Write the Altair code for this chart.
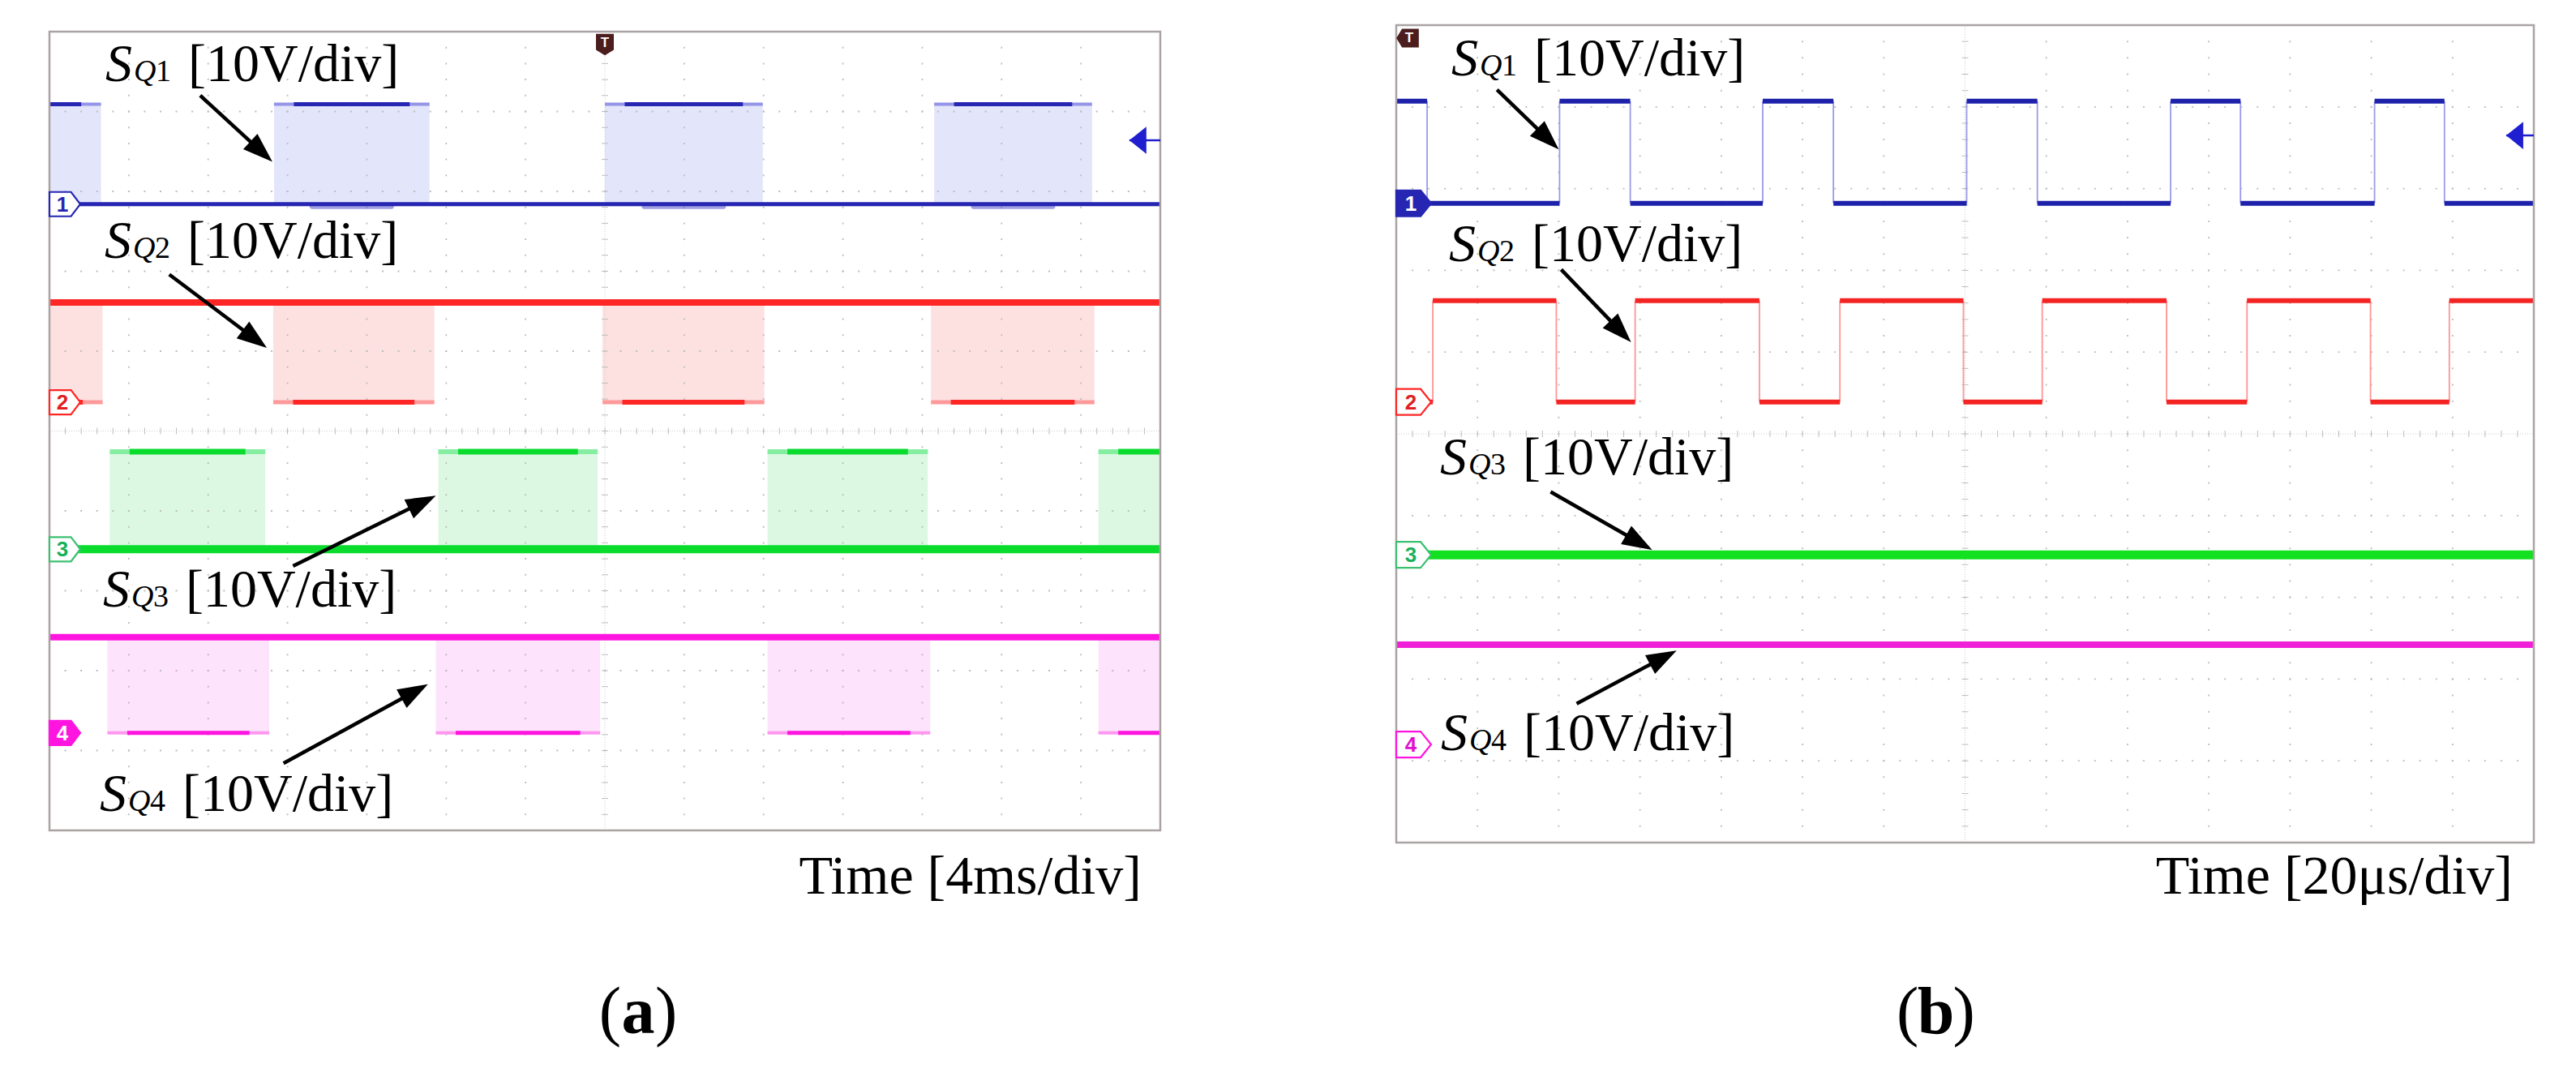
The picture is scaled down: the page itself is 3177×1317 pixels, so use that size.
import math
import altair as alt
import pandas as pd

SERIF = "Liberation Serif"
SANS = "Liberation Sans"

# ---------------- colours (ch1..ch4) ----------------
CH_DARK = ["#2626b2", "#ff2626", "#0adc2e", "#ff14e0"]
CH_LIGHT = ["#9494e8", "#ff9a9a", "#86eea0", "#ff96f0"]
CH_FILL = ["#e3e5fb", "#fde1e1", "#dcf8e3", "#fde3fb"]
CH_NUMCOL = ["#2626b2", "#e02020", "#18b058", "#e010d0"]
CH_LABEL = ["1", "2", "3", "4"]
GRID = "#bdbdbd"

# ---------------- panel (a): 4 ms/div (x: 0..14 div, y: 0..10 div) ----------------
A_LOW = [7.84, 5.36, 3.52, 1.22]
A_HIGH = [9.09, 6.61, 4.74, 2.42]
A_CONT_HIGH = [False, True, False, True]
A_CH1_PULSES = [[0.00, 0.65], [2.83, 4.79], [7.00, 8.99], [11.15, 13.14]]
A_CH2_PULSES = [[0.00, 0.67], [2.82, 4.85], [6.97, 9.01], [11.11, 13.17]]
A_CH3_PULSES = [[0.76, 2.72], [4.90, 6.91], [9.05, 11.07], [13.22, 14.00]]
A_CH4_PULSES = [[0.73, 2.77], [4.87, 6.94], [9.05, 11.10], [13.22, 14.00]]
A_MARKER_Y = [7.84, 5.36, 3.52, 1.22]
A_MARKER_FILLED = [False, False, False, True]
A_LABEL_XY = [[0.705, 9.381], [0.695, 7.168], [0.674, 2.802], [0.634, 0.244]]
A_ARROWS = [[1.90, 9.20, 2.81, 8.37], [1.51, 6.96, 2.74, 6.04],
            [3.07, 3.31, 4.87, 4.19], [2.95, 0.84, 4.77, 1.83]]
A_TRIG_LEVEL = [13.61, 8.64]
A_TIME = "Time [4ms/div]"
A_TIME_XY = [13.765, -0.79]
A_TAG = "a"
A_TAG_XY = [7.42, -2.54]

# ---------------- panel (b): 20 us/div ----------------
B_LOW = [7.82, 5.39, 3.52, 1.20]
B_HIGH = [9.07, 6.63, 3.52, 2.42]
B_CH1_EDGES = [0.38, 2.01, 2.88, 4.51, 5.38, 7.02, 7.89, 9.53, 10.39, 12.04, 12.90]
B_CH2_EDGES = [0.45, 1.97, 2.94, 4.47, 5.46, 6.98, 7.95, 9.48, 10.47, 11.99, 12.96]
B_CH1_START_HIGH = True
B_CH2_START_HIGH = False
B_CH3_LEVEL = 3.52
B_CH4_LEVEL = 2.42
B_MARKER_Y = [7.82, 5.39, 3.52, 1.20]
B_MARKER_FILLED = [True, False, False, False]
B_LABEL_XY = [[0.679, 9.385], [0.649, 7.113], [0.539, 4.504], [0.549, 1.131]]
B_ARROWS = [[1.24, 9.21, 2.00, 8.48], [2.03, 7.01, 2.89, 6.12],
            [1.90, 4.29, 3.15, 3.58], [2.22, 1.70, 3.45, 2.35]]
B_TRIG_LEVEL = [13.66, 8.65]
B_TIME = "Time [20\u03bcs/div]"
B_TIME_XY = [13.74, -0.625]
B_TAG = "b"
B_TAG_XY = [6.64, -2.33]

HEAD = "M0,0 L-0.7,2 L0.7,2 Z"
TRIG_DOWN = "M-1,-1.2 L1,-1.2 L1,0.6 L0,1.2 L-1,0.6 Z"
TRIG_LEFT = "M-1.2,0 L-0.6,-1 L1.2,-1 L1.2,1 L-0.6,1 Z"
LEVEL_HEAD = "M0,0 L1,-0.8 L1,0.8 Z"


def XY(xs, ys):
    return dict(x=alt.X("x:Q", scale=xs, axis=None), y=alt.Y("y:Q", scale=ys, axis=None))


def C(col):
    return alt.Color(col + ":N", scale=None, legend=None)


def W(col):
    return alt.Size(col + ":Q", scale=None, legend=None)


def grid_layers(xs, ys, pxx, pxy):
    v = pd.DataFrame([{"x": i, "y": 0, "y2": 10} for i in range(1, 14) if i != 7])
    h = pd.DataFrame([{"x": 0, "x2": 14, "y": j} for j in range(1, 10) if j != 5])
    out = [
        alt.Chart(v).mark_rule(color=GRID, strokeWidth=1.8, strokeDash=[2, pxy / 5 - 2], strokeDashOffset=1)
        .encode(**XY(xs, ys), y2="y2:Q"),
        alt.Chart(h).mark_rule(color=GRID, strokeWidth=1.8, strokeDash=[2, pxx / 5 - 2], strokeDashOffset=1)
        .encode(**XY(xs, ys), x2="x2:Q"),
        alt.Chart(pd.DataFrame([{"x": 7, "y": 0, "y2": 10}]))
        .mark_rule(color="#cbcbcb", strokeWidth=1, strokeDash=[1, 2]).encode(**XY(xs, ys), y2="y2:Q"),
        alt.Chart(pd.DataFrame([{"x": 0, "x2": 14, "y": 5}]))
        .mark_rule(color="#cbcbcb", strokeWidth=1, strokeDash=[1, 2]).encode(**XY(xs, ys), x2="x2:Q"),
        alt.Chart(pd.DataFrame([{"x": 7, "x2": 7, "y": k / 5} for k in range(1, 50)]))
        .mark_rule(color=GRID, strokeWidth=1, xOffset=-4, x2Offset=4).encode(**XY(xs, ys), x2="x2:Q"),
        alt.Chart(pd.DataFrame([{"x": k / 5, "y": 5, "y2": 5} for k in range(1, 70)]))
        .mark_rule(color=GRID, strokeWidth=1, yOffset=-4, y2Offset=4).encode(**XY(xs, ys), y2="y2:Q"),
    ]
    return out


def frame_layer(xs, ys):
    return alt.Chart(pd.DataFrame([{"x": 0, "x2": 14, "y": 0, "y2": 10}])).mark_rect(
        fillOpacity=0, stroke="#aba3a3", strokeWidth=2.5
    ).encode(**XY(xs, ys), x2="x2:Q", y2="y2:Q")


def marker_layers(xs, ys, ys_list, filled, mw, mh, numdx):
    s = mw / 2.0
    hh = (mh / 2.0) / s
    path = f"M0,-{hh:.3f} L1.4,-{hh:.3f} L2,0 L1.4,{hh:.3f} L0,{hh:.3f} Z"
    rows = []
    for i in range(4):
        rows.append({"x": 0, "y": ys_list[i], "n": CH_LABEL[i],
                     "f": CH_DARK[i] if filled[i] else "#ffffff",
                     "s": CH_DARK[i] if i != 2 else "#3cc070",
                     "t": "#ffffff" if filled[i] else CH_NUMCOL[i]})
    df = pd.DataFrame(rows)
    pts = alt.Chart(df).mark_point(shape=path, size=(2 * s) ** 2, filled=True, strokeWidth=2.2, opacity=1).encode(
        **XY(xs, ys), fill=alt.Fill("f:N", scale=None, legend=None),
        stroke=alt.Stroke("s:N", scale=None, legend=None))
    txt = alt.Chart(df).mark_text(font=SANS, fontWeight="bold", fontSize=26, dx=numdx, dy=1,
                                  align="center", baseline="middle").encode(**XY(xs, ys), text="n:N", color=C("t"))
    return [pts, txt]


def arrow_layers(xs, ys, pxx, pxy, arr):
    shafts, heads = [], []
    for x1, y1, x2, y2 in arr:
        dxs = (x2 - x1) * pxx
        dys = -(y2 - y1) * pxy
        L = math.hypot(dxs, dys)
        ang = math.degrees(math.atan2(dxs, -dys)) % 360
        back = 28.0 / L
        shafts.append({"x": x1, "y": y1, "x2": x2 - (x2 - x1) * back, "y2": y2 - (y2 - y1) * back})
        heads.append({"x": x2, "y": y2, "a": ang})
    return [
        alt.Chart(pd.DataFrame(shafts)).mark_rule(color="black", strokeWidth=4.5)
        .encode(**XY(xs, ys), x2="x2:Q", y2="y2:Q"),
        alt.Chart(pd.DataFrame(heads)).mark_point(shape=HEAD, size=1369, filled=True, color="black", opacity=1)
        .encode(**XY(xs, ys), angle=alt.Angle("a:Q", scale=None)),
    ]


def label_layers(xs, ys, pos):
    df = pd.DataFrame([{"x": p[0], "y": p[1], "s": "S", "q": "Q", "n": str(i + 1), "r": "[10V/div]"}
                       for i, p in enumerate(pos)])
    base = dict(font=SERIF, align="left", baseline="alphabetic", color="black")
    return [
        alt.Chart(df).mark_text(fontSize=66, fontStyle="italic", **base).encode(**XY(xs, ys), text="s:N"),
        alt.Chart(df).mark_text(fontSize=38, fontStyle="italic", dx=35, **base).encode(**XY(xs, ys), text="q:N"),
        alt.Chart(df).mark_text(fontSize=38, dx=62, **base).encode(**XY(xs, ys), text="n:N"),
        alt.Chart(df).mark_text(fontSize=66, dx=102, **base).encode(**XY(xs, ys), text="r:N"),
    ]


def bottom_layers(xs, ys, time_text, time_xy, tag, tag_xy):
    t = pd.DataFrame([{"x": time_xy[0], "y": time_xy[1], "t": time_text}])
    g = pd.DataFrame([{"x": tag_xy[0], "y": tag_xy[1], "a": "(", "b": tag, "c": ")"}])
    return [
        alt.Chart(t).mark_text(font=SERIF, fontSize=68, align="right", baseline="alphabetic", color="black")
        .encode(**XY(xs, ys), text="t:N"),
        alt.Chart(g).mark_text(font=SERIF, fontSize=82, align="right", baseline="alphabetic", dx=-21, color="black")
        .encode(**XY(xs, ys), text="a:N"),
        alt.Chart(g).mark_text(font=SERIF, fontSize=82, fontWeight="bold", align="center", baseline="alphabetic",
                               color="black").encode(**XY(xs, ys), text="b:N"),
        alt.Chart(g).mark_text(font=SERIF, fontSize=82, align="left", baseline="alphabetic", dx=21, color="black")
        .encode(**XY(xs, ys), text="c:N"),
    ]


def level_arrow_layers(xs, ys, lv, color):
    head = pd.DataFrame([{"x": lv[0], "y": lv[1]}])
    stem = pd.DataFrame([{"x": lv[0], "x2": 14, "y": lv[1]}])
    return [
        alt.Chart(stem).mark_rule(color=color, strokeWidth=2.5).encode(**XY(xs, ys), x2="x2:Q"),
        alt.Chart(head).mark_point(shape=LEVEL_HEAD, size=42 ** 2, filled=True, color=color, opacity=1)
        .encode(**XY(xs, ys)),
    ]


# ---------------- panel (a) ----------------
def panel_a():
    Wd, Hd, ydom = 1370, 1271, [-2.822, 10.081]
    xs = alt.Scale(domain=[0, 14], nice=False, zero=False)
    ys = alt.Scale(domain=ydom, nice=False, zero=False)
    pxx = Wd / 14.0
    pxy = Hd / (ydom[1] - ydom[0])
    pulses = [A_CH1_PULSES, A_CH2_PULSES, A_CH3_PULSES, A_CH4_PULSES]
    fills, cont, inner_light, inner_dark, bulge = [], [], [], [], []
    cont_w = [5, 8, 10, 8]
    inner_w = [5, 6, 7, 5]
    for i in range(4):
        lo, hi = A_LOW[i], A_HIGH[i]
        other = lo if A_CONT_HIGH[i] else hi
        cont.append({"x": 0, "x2": 14, "y": hi if A_CONT_HIGH[i] else lo, "c": CH_DARK[i], "w": cont_w[i]})
        for a, b in pulses[i]:
            fills.append({"x": a, "x2": b, "y": lo, "y2": hi, "c": CH_FILL[i]})
            inner_light.append({"x": a, "x2": b, "y": other, "c": CH_LIGHT[i], "w": inner_w[i] - 1})
            a2 = a + 0.25 if a > 0.01 else a
            b2 = b - 0.25 if b < 13.99 else b
            inner_dark.append({"x": a2, "x2": b2, "y": other, "c": CH_DARK[i], "w": inner_w[i]})
            if i == 0 and b - a > 1.5:
                m = (a + b) / 2
                bulge.append({"x": m - 0.5, "x2": m + 0.5, "y": lo, "c": "#5050c8"})
    layers = [
        alt.Chart(pd.DataFrame(fills)).mark_rect().encode(**XY(xs, ys), x2="x2:Q", y2="y2:Q", color=C("c")),
    ]
    layers += grid_layers(xs, ys, pxx, pxy)
    layers += [
        alt.Chart(pd.DataFrame(inner_light)).mark_rule().encode(**XY(xs, ys), x2="x2:Q", color=C("c"), size=W("w")),
        alt.Chart(pd.DataFrame(inner_dark)).mark_rule().encode(**XY(xs, ys), x2="x2:Q", color=C("c"), size=W("w")),
        alt.Chart(pd.DataFrame(bulge)).mark_rule(strokeWidth=6, yOffset=3, y2Offset=3, opacity=0.55,
                                                 strokeCap="round").encode(**XY(xs, ys), x2="x2:Q", color=C("c")),
        alt.Chart(pd.DataFrame(cont)).mark_rule().encode(**XY(xs, ys), x2="x2:Q", color=C("c"), size=W("w")),
        frame_layer(xs, ys),
    ]
    layers += marker_layers(xs, ys, A_MARKER_Y, A_MARKER_FILLED, 38, 30, 16)
    trig = pd.DataFrame([{"x": 7, "y": 10, "t": "T"}])
    layers += [
        alt.Chart(trig).mark_point(shape=TRIG_DOWN, size=484, filled=True, color="#4b1d1d", opacity=1, yOffset=16)
        .encode(**XY(xs, ys)),
        alt.Chart(trig).mark_text(font=SANS, fontWeight="bold", fontSize=17, color="white", dy=14,
                                  align="center", baseline="middle").encode(**XY(xs, ys), text="t:N"),
    ]
    layers += level_arrow_layers(xs, ys, A_TRIG_LEVEL, "#1f1fd0")
    layers += arrow_layers(xs, ys, pxx, pxy, A_ARROWS)
    layers += label_layers(xs, ys, A_LABEL_XY)
    layers += bottom_layers(xs, ys, A_TIME, A_TIME_XY, A_TAG, A_TAG_XY)
    return alt.layer(*layers).properties(width=Wd, height=Hd)


# ---------------- panel (b) ----------------
def square(edges, start_high, lo, hi, dark, light):
    pts = [0.0] + list(edges) + [14.0]
    segs, verts = [], []
    state = start_high
    for a, b in zip(pts[:-1], pts[1:]):
        segs.append({"x": a, "x2": b, "y": hi if state else lo, "c": dark})
        state = not state
    for e in edges:
        verts.append({"x": e, "y": lo, "y2": hi, "c": light})
    return segs, verts


def panel_b():
    Wd, Hd, ydom = 1403, 1271, [-2.609, 10.0]
    xs = alt.Scale(domain=[0, 14], nice=False, zero=False)
    ys = alt.Scale(domain=ydom, nice=False, zero=False)
    pxx = Wd / 14.0
    pxy = Hd / (ydom[1] - ydom[0])
    s1, v1 = square(B_CH1_EDGES, B_CH1_START_HIGH, B_LOW[0], B_HIGH[0], "#1e22aa", "#9a9ae8")
    s2, v2 = square(B_CH2_EDGES, B_CH2_START_HIGH, B_LOW[1], B_HIGH[1], "#f52424", "#ff9494")
    flat = [{"x": 0, "x2": 14, "y": B_CH3_LEVEL, "c": "#12e020", "w": 11},
            {"x": 0, "x2": 14, "y": B_CH4_LEVEL, "c": "#f020d8", "w": 8}]
    layers = grid_layers(xs, ys, pxx, pxy)
    layers += [
        alt.Chart(pd.DataFrame(v1 + v2)).mark_rule(strokeWidth=1.8).encode(**XY(xs, ys), y2="y2:Q", color=C("c")),
        alt.Chart(pd.DataFrame(s1 + s2)).mark_rule(strokeWidth=6).encode(**XY(xs, ys), x2="x2:Q", color=C("c")),
        alt.Chart(pd.DataFrame(flat)).mark_rule().encode(**XY(xs, ys), x2="x2:Q", color=C("c"), size=W("w")),
        frame_layer(xs, ys),
    ]
    layers += marker_layers(xs, ys, B_MARKER_Y, B_MARKER_FILLED, 43, 32, 18)
    trig = pd.DataFrame([{"x": 0, "y": 10, "t": "T"}])
    layers += [
        alt.Chart(trig).mark_point(shape=TRIG_LEFT, size=529, filled=True, color="#4b1d1d", opacity=1,
                                   xOffset=14, yOffset=16).encode(**XY(xs, ys)),
        alt.Chart(trig).mark_text(font=SANS, fontWeight="bold", fontSize=17, color="white", dx=16, dy=16,
                                  align="center", baseline="middle").encode(**XY(xs, ys), text="t:N"),
    ]
    layers += level_arrow_layers(xs, ys, B_TRIG_LEVEL, "#1f1fd0")
    layers += arrow_layers(xs, ys, pxx, pxy, B_ARROWS)
    layers += label_layers(xs, ys, B_LABEL_XY)
    layers += bottom_layers(xs, ys, B_TIME, B_TIME_XY, B_TAG, B_TAG_XY)
    return alt.layer(*layers).properties(width=Wd, height=Hd)


chart = alt.hconcat(panel_a(), panel_b(), spacing=291, bounds="flush").properties(
    padding={"left": 48, "top": 21, "right": 10, "bottom": 5},
    background="white",
).configure_view(stroke=None)

chart.save("out.html", embed_options={"renderer": "svg", "actions": False})
